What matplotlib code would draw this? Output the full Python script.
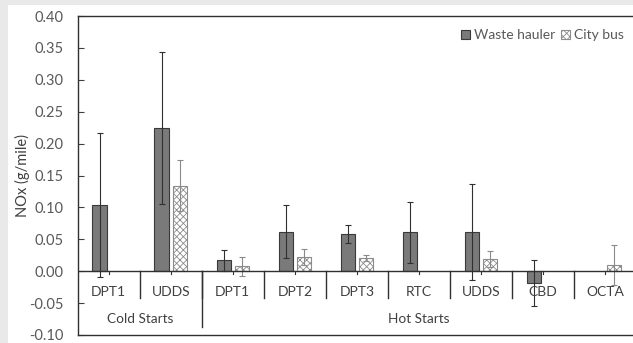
import matplotlib.pyplot as plt
import matplotlib.patches as mpatches
import numpy as np

plt.rcParams['font.family'] = ['Lato', 'DejaVu Sans']
plt.rcParams['axes.unicode_minus'] = False
plt.rcParams['hatch.linewidth'] = 0.6

# cycles and start groups
cycles = ["DPT1", "UDDS", "DPT1", "DPT2", "DPT3", "RTC", "UDDS", "CBD", "OCTA"]
groups = ["Cold Starts", "Hot Starts"]
group_sizes = [2, 7]

# NOx emissions (g/mile) with error bars; nan = no data
hauler = [0.104, 0.224, 0.017, 0.062, 0.058, 0.061, 0.061, -0.019, np.nan]
hauler_err = [0.113, 0.119, 0.017, 0.042, 0.014, 0.048, 0.075, 0.036, np.nan]
bus = [np.nan, 0.134, 0.0075, 0.022, 0.021, np.nan, 0.019, np.nan, 0.0095]
bus_err = [np.nan, 0.040, 0.015, 0.013, 0.005, np.nan, 0.012, np.nan, 0.031]

yticks = np.arange(-0.10, 0.401, 0.05)

fig = plt.figure(figsize=(6.33, 3.43), dpi=100, facecolor='#e9e9e9')
# white sheet under the chart
sheet = mpatches.Rectangle((8 / 633, 0), 1, 1 - 5 / 343, transform=fig.transFigure,
                           facecolor='white', edgecolor='none', zorder=-10)
fig.patches.append(sheet)

ax = fig.add_axes([77.7 / 633, 8 / 343, 558.3 / 633, 319 / 343])
ax.set_facecolor('none')

x = np.arange(len(cycles))
w = 0.23
off = 0.147

ax.bar(x - off, hauler, w, color='#7a7a7a', edgecolor='#3a3a3a', linewidth=0.8,
       label='Waste hauler', zorder=2)
ax.errorbar(x - off, hauler, yerr=hauler_err, fmt='none', ecolor='#303030',
            elinewidth=0.8, capsize=2.5, capthick=0.8, zorder=3)
ax.bar(x + off, bus, w, color='white', edgecolor='#8c8c8c', hatch='xxxxx',
       linewidth=0.8, label='City bus', zorder=2)
ax.errorbar(x + off, bus, yerr=bus_err, fmt='none', ecolor='#8a8a8a',
            elinewidth=0.8, capsize=2.5, capthick=0.8, zorder=3)

ax.set_xlim(-0.5, len(cycles) - 0.5)
ax.set_ylim(-0.10, 0.40)
ax.set_yticks(yticks)
ax.set_yticklabels([f"{v:.2f}" for v in yticks])
ax.tick_params(axis='y', direction='in', length=4, width=0.8, color='#404040',
               labelsize=10.5, labelcolor='#595959', pad=10)
ax.set_xticks([])
ax.set_ylabel('NOx (g/mile)', fontsize=10.5, color='#404040')
ax.yaxis.set_label_coords(-0.085, 0.5)

for side in ['left', 'top', 'bottom']:
    ax.spines[side].set_color('#303030')
    ax.spines[side].set_linewidth(1.0)
ax.spines['right'].set_visible(False)

# zero line with category ticks and separators
ax.axhline(0, color='#303030', linewidth=1.0, zorder=4)
for b in np.arange(0.5, len(cycles) - 0.5, 1.0):
    ax.plot([b, b], [0, -0.0425], color='#303030', linewidth=1.0, zorder=4)
for c in x:
    ax.plot([c, c], [0, -0.005], color='#303030', linewidth=0.8, zorder=4)
for name, c in zip(cycles, x):
    ax.text(c, -0.032, name, ha='center', va='center', fontsize=10, color='#404040')

start = -0.5
for g, n in zip(groups, group_sizes):
    ax.text(start + n / 2, -0.0745, g, ha='center', va='center',
            fontsize=9.8, color='#404040')
    start += n
    if start < len(cycles) - 0.5:
        ax.plot([start, start], [0, -0.088], color='#303030', linewidth=1.0, zorder=4)

leg = ax.legend(loc='upper right', bbox_to_anchor=(0.993, 0.985), ncol=2, frameon=False,
                fontsize=10, handlelength=0.6, handleheight=0.6, handletextpad=0.3,
                columnspacing=0.45, borderaxespad=0.2, labelcolor='#595959')

fig.savefig('out.png', dpi=100, facecolor=fig.get_facecolor())
